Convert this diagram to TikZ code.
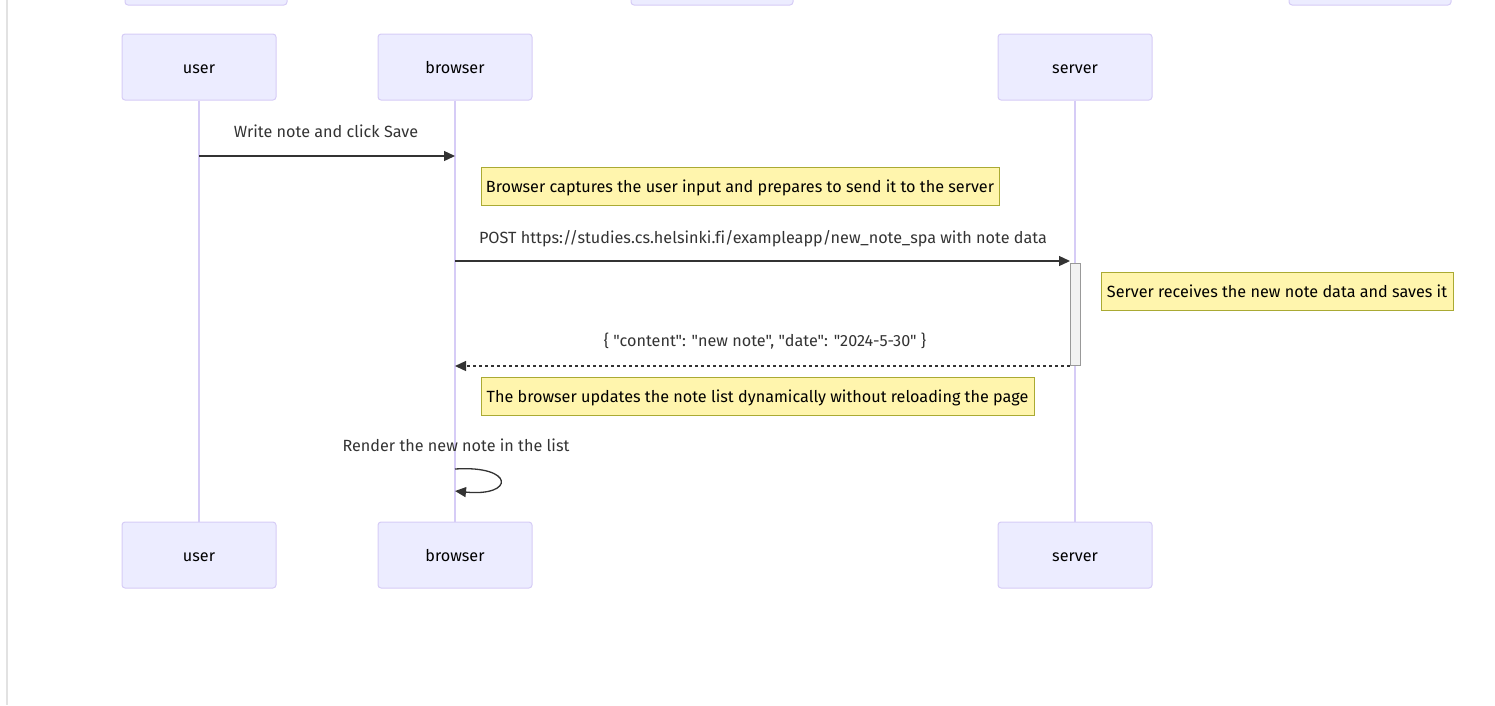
\documentclass[tikz,border=0pt]{standalone}
\usepackage{fontspec}
\setmainfont{Fira Sans}[Ligatures={TeXOff,CommonOff}]
\usetikzlibrary{arrows.meta}
\definecolor{actorfill}{HTML}{ECECFF}
\definecolor{actorline}{HTML}{D6CCF6}
\definecolor{notefill}{HTML}{FFF5AD}
\definecolor{noteline}{HTML}{AAAA33}
\definecolor{ink}{HTML}{333333}
\definecolor{frame}{HTML}{E2E2E2}
\begin{document}
\begin{tikzpicture}[x=1pt,y=-1pt,
  txt/.style={font=\fontsize{16.2}{19}\selectfont,text height=13pt,text depth=1pt},
  actor/.style={txt,draw=actorline,fill=actorfill,line width=1pt,rounded corners=3pt,
    minimum width=154pt,minimum height=66pt,inner sep=0pt,text=black},
  lifeline/.style={draw=actorline,line width=1.5pt},
  note/.style={txt,draw=noteline,fill=notefill,line width=0.8pt,inner sep=0pt,
    minimum height=38pt,text=black},
  msg/.style={draw=ink,line width=1.3pt,-{Triangle[length=11pt,width=10pt]}},
  reply/.style={msg,dash pattern=on 3pt off 3pt},
  lbl/.style={txt,text=ink,inner sep=0pt},
  act/.style={draw=gray!80,fill=black!5,line width=1pt}]
\useasboundingbox (0,0) rectangle (1495,705);
% page edge and partly visible boxes of the diagram above
\draw[frame,line width=1.2pt] (7,0) -- (7,705);
\path[draw=actorline,fill=actorfill,line width=1pt,rounded corners=3pt]
  (125,-20) rectangle (287,5) (631,-20) rectangle (793,5) (1289,-20) rectangle (1451,5);
% participants
\node[actor] (userT) at (199,67) {user};
\node[actor] (browserT) at (455,67) {browser};
\node[actor] (serverT) at (1075,67) {server};
\node[actor] (userB) at (199,555) {user};
\node[actor] (browserB) at (455,555) {browser};
\node[actor] (serverB) at (1075,555) {server};
\draw[lifeline] (userT) -- (userB);
\draw[lifeline] (browserT) -- (browserB);
\draw[lifeline] (serverT) -- (serverB);
% activation of the server
\node[act,minimum width=10pt,minimum height=102pt,inner sep=0pt,anchor=north] (serverAct) at (1075,263) {};
% message anchor points
\coordinate (u1) at (199,156);
\coordinate (b1) at (455,156);
\coordinate (b2) at (455,261);
\coordinate (b3) at (455,366);
\coordinate (b4) at (455,469);
\coordinate (b5) at (455,491);
\coordinate (s2) at (1070,261);
\coordinate (s3) at (serverAct.south west);
% messages
\draw[msg] (u1) -- (b1);
\node[lbl] (m1) at (326,131) {Write note and click Save};
\node[note,minimum width=518pt] (n1) at (740,186) {Browser captures the user input and prepares to send it to the server};
\draw[msg] (b2) -- (s2);
\node[lbl] (m2) at (763,237) {POST https://studies.cs.helsinki.fi/exampleapp/new\_note\_spa with note data};
\node[note,minimum width=352pt] (n2) at (1277,291) {Server receives the new note data and saves it};
\draw[reply] (s3) -- (b3);
\node[lbl] (m3) at (765,340) {\{ "content": "new note", "date": "2024-5-30" \}};
\node[note,minimum width=553pt] (n3) at (757.5,396) {The browser updates the note list dynamically without reloading the page};
\node[lbl] (m4) at (456,445) {Render the new note in the list};
\draw[msg] (b4) .. controls (515,465) and (515,497) .. (b5);
\end{tikzpicture}
\end{document}
